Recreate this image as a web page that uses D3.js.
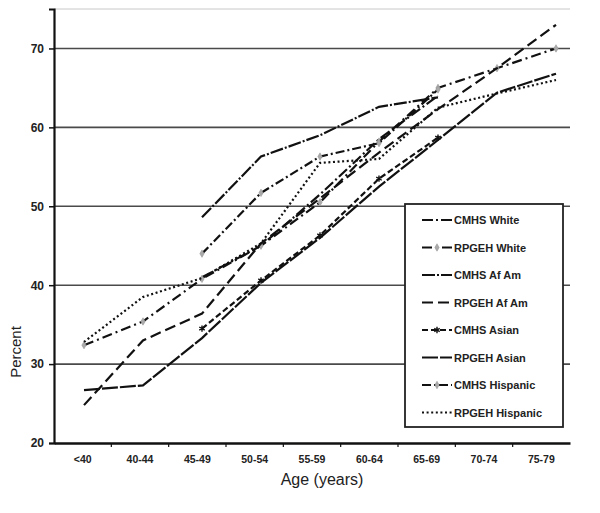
<!DOCTYPE html>
<html>
<head>
<meta charset="utf-8">
<script src="https://cdn.jsdelivr.net/npm/d3@7"></script>
<style>
  html, body { margin: 0; padding: 0; background: #fff; }
  svg { display: block; font-family: "Liberation Sans", Arial, sans-serif; }
</style>
</head>
<body>
<svg id="chart" width="600" height="513"></svg>
<script>
// ---- data ----
const ageGroups = ["<40", "40-44", "45-49", "50-54", "55-59", "60-64", "65-69", "70-74", "75-79"];
const yTickValues = [20, 30, 40, 50, 60, 70];
const seriesNames = ["CMHS White", "RPGEH White", "CMHS Af Am", "RPGEH Af Am",
                     "CMHS Asian", "RPGEH Asian", "CMHS Hispanic", "RPGEH Hispanic"];
const cmhsWhite     = [null, null, 41.0, 45.0, 51.5, 58.5, 64.0, null, null];
const rpgehWhite    = [32.4, 35.4, 40.8, 45.0, 50.5, 58.2, 65.0, 67.5, 70.0];
const cmhsAfAm      = [null, null, 48.6, 56.3, 59.0, 62.6, 63.8, null, null];
const rpgehAfAm     = [24.8, 33.0, 36.4, 45.3, 51.0, 56.8, 62.3, 67.5, 73.0];
const cmhsAsian     = [null, null, 34.5, 40.6, 46.3, 53.5, 58.7, null, null];
const rpgehAsian    = [26.7, 27.3, 33.3, 40.3, 46.0, 52.5, 58.4, 64.4, 66.8];
const cmhsHispanic  = [null, null, 44.0, 51.7, 56.3, 58.0, 64.8, null, null];
const rpgehHispanic = [32.8, 38.5, 40.9, 45.3, 55.5, 56.0, 62.5, 64.3, 66.0];
const seriesValues = [cmhsWhite, rpgehWhite, cmhsAfAm, rpgehAfAm,
                      cmhsAsian, rpgehAsian, cmhsHispanic, rpgehHispanic];

// ---- styles (separate from data) ----
const styles = [
  { dash: "11,3,2,3", marker: null },
  { dash: "10,4,2,4", marker: "gray" },
  { dash: "13,2,2,2", marker: null },
  { dash: "11,5",     marker: null },
  { dash: "6,3",      marker: "star" },
  { dash: "16,2",     marker: null },
  { dash: "9,3,2,3",  marker: "gray" },
  { dash: "2,2.6",    marker: null }
];

const svg = d3.select("#chart");
const plotL = 54, plotR = 570, plotT = 9, plotB = 443;

const xAxisScale = d3.scaleBand().domain(ageGroups).range([plotL, plotR]);
const xLine = d3.scalePoint().domain(ageGroups).range([84, 556]);
const y = d3.scaleLinear().domain([20, 75]).range([plotB, plotT]);

// top frame line
svg.append("line").attr("x1", plotL).attr("x2", plotR).attr("y1", plotT).attr("y2", plotT)
  .attr("stroke", "#c8c8c8").attr("stroke-width", 1);

// gridlines
svg.append("g").selectAll("line").data(yTickValues.filter(v => v > 20)).join("line")
  .attr("x1", plotL).attr("x2", plotR)
  .attr("y1", d => y(d)).attr("y2", d => y(d))
  .attr("stroke", "#4a4a4a").attr("stroke-width", 1.6);

// y axis
const yAxis = d3.axisLeft(y).tickValues(yTickValues).tickSize(5).tickPadding(5).tickFormat(d3.format("d"));
const gy = svg.append("g").attr("transform", `translate(${plotL},0)`).call(yAxis);
gy.select(".domain").attr("stroke", "#111").attr("stroke-width", 2.2);
gy.selectAll(".tick line").attr("stroke", "#111").attr("stroke-width", 1.5);
gy.selectAll(".tick text").attr("font-size", 12).attr("font-weight", "bold").attr("fill", "#222")
  .attr("font-family", "Liberation Sans, Arial, sans-serif");

// x axis
const xAxis = d3.axisBottom(xAxisScale).tickSize(0).tickPadding(13);
const gx = svg.append("g").attr("transform", `translate(0,${plotB})`).call(xAxis);
gx.select(".domain").attr("stroke", "#111").attr("stroke-width", 2.6);
gx.selectAll(".tick text").attr("font-size", 10.5).attr("font-weight", "bold").attr("fill", "#222")
  .attr("font-family", "Liberation Sans, Arial, sans-serif");
// tick marks between categories
gx.append("g").selectAll("line").data(ageGroups.slice(1)).join("line")
  .attr("x1", d => xAxisScale(d)).attr("x2", d => xAxisScale(d))
  .attr("y1", 0).attr("y2", 4).attr("stroke", "#111").attr("stroke-width", 1.2);

// axis titles
svg.append("text").attr("x", 322).attr("y", 485).attr("text-anchor", "middle")
  .attr("font-size", 16).attr("fill", "#222").text("Age (years)");
svg.append("text").attr("transform", "translate(21,352) rotate(-90)").attr("text-anchor", "middle")
  .attr("font-size", 15).attr("fill", "#222").text("Percent");

// lines
const lineGen = d3.line()
  .defined(d => d.v !== null)
  .x(d => xLine(d.age))
  .y(d => y(d.v));

const gLines = svg.append("g");
seriesValues.forEach((vals, i) => {
  const pts = vals.map((v, j) => ({ age: ageGroups[j], v }));
  gLines.append("path").datum(pts)
    .attr("d", lineGen)
    .attr("fill", "none")
    .attr("stroke", "#111")
    .attr("stroke-width", 2.2)
    .attr("stroke-dasharray", styles[i].dash);
  const st = styles[i];
  if (st.marker) {
    const sym = st.marker === "star" ? d3.symbolAsterisk : d3.symbolDiamond;
    gLines.append("g").selectAll("path").data(pts.filter(d => d.v !== null)).join("path")
      .attr("transform", d => `translate(${xLine(d.age)},${y(d.v)})`)
      .attr("d", d3.symbol(sym, st.marker === "star" ? 28 : 16))
      .attr("fill", st.marker === "star" ? "none" : "#aaa")
      .attr("stroke", st.marker === "star" ? "#111" : "#999")
      .attr("stroke-width", st.marker === "star" ? 1.4 : 0.6);
  }
});

// legend
const lg = svg.append("g");
lg.append("rect").attr("x", 405).attr("y", 204).attr("width", 158).attr("height", 223)
  .attr("fill", "#fff").attr("stroke", "#222").attr("stroke-width", 1.8);
seriesNames.forEach((name, i) => {
  const ly = 220 + i * 27.5;
  lg.append("line").attr("x1", 422).attr("x2", 452).attr("y1", ly).attr("y2", ly)
    .attr("stroke", "#111").attr("stroke-width", 2.2)
    .attr("stroke-dasharray", styles[i].dash);
  if (styles[i].marker) {
    const sym = styles[i].marker === "star" ? d3.symbolAsterisk : d3.symbolDiamond;
    lg.append("path").attr("transform", `translate(437,${ly})`)
      .attr("d", d3.symbol(sym, styles[i].marker === "star" ? 28 : 16))
      .attr("fill", styles[i].marker === "star" ? "none" : "#aaa")
      .attr("stroke", styles[i].marker === "star" ? "#111" : "#999")
      .attr("stroke-width", styles[i].marker === "star" ? 1.4 : 0.6);
  }
  lg.append("text").attr("x", 454).attr("y", ly + 4)
    .attr("font-size", 11).attr("font-weight", "bold").attr("fill", "#222")
    .text(name);
});
</script>
</body>
</html>
